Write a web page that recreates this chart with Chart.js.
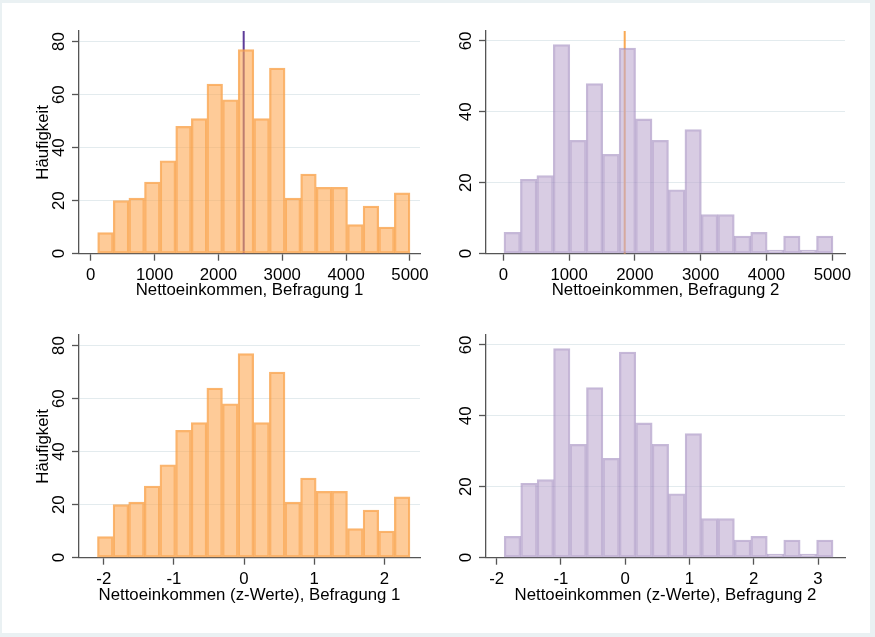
<!DOCTYPE html>
<html><head><meta charset="utf-8">
<script src="https://cdn.jsdelivr.net/npm/chart.js@4.4.0/dist/chart.umd.min.js"></script>
<style>
html,body{margin:0;padding:0;background:#eaf1f3;width:875px;height:637px;overflow:hidden;}
#frame{position:absolute;left:2px;top:3px;width:868px;height:630px;background:#fff;}
canvas{position:absolute;}
</style></head><body>
<div id="frame"></div>
<canvas id="c1" width="450" height="310" style="left:0;top:0"></canvas>
<canvas id="c2" width="440" height="310" style="left:430px;top:0"></canvas>
<canvas id="c3" width="450" height="305" style="left:0;top:310px"></canvas>
<canvas id="c4" width="440" height="305" style="left:430px;top:310px"></canvas>
<script>
// ---- data ----
const binEdges1 = [109, 354, 598, 843, 1087, 1332, 1576, 1821, 2065, 2310, 2555, 2799, 3044, 3288, 3533, 3777, 4022, 4266, 4511, 4755, 5000];
const counts1   = [8, 20, 21, 27, 35, 48, 51, 64, 58, 77, 51, 70, 21, 30, 25, 25, 11, 18, 10, 23];
const binEdges2 = [10, 260, 510, 760, 1010, 1260, 1510, 1760, 2010, 2260, 2510, 2760, 3010, 3260, 3510, 3760, 4010, 4260, 4510, 4760, 5010];
const counts2   = [6, 21, 22, 59, 32, 48, 28, 58, 38, 32, 18, 35, 11, 11, 5, 6, 1, 5, 1, 5];
const binEdgesZ1 = [-2.090, -1.867, -1.644, -1.422, -1.199, -0.976, -0.753, -0.530, -0.308, -0.085, 0.138, 0.361, 0.584, 0.806, 1.029, 1.252, 1.475, 1.698, 1.920, 2.143, 2.366];
const countsZ1   = [8, 20, 21, 27, 35, 48, 51, 64, 58, 77, 51, 70, 21, 30, 25, 25, 11, 18, 10, 23];
const binEdgesZ2 = [-1.882, -1.626, -1.370, -1.115, -0.859, -0.603, -0.347, -0.091, 0.164, 0.420, 0.676, 0.932, 1.188, 1.443, 1.699, 1.955, 2.211, 2.467, 2.722, 2.978, 3.234];
const countsZ2   = [6, 21, 22, 59, 32, 48, 28, 58, 38, 32, 18, 35, 11, 11, 5, 6, 1, 5, 1, 5];
const markerLine1 = 2396;   // vertical line, panel top-left
const markerLine2 = 1845;   // vertical line, panel top-right
const xTicksIncome = [0, 1000, 2000, 3000, 4000, 5000];
const xTicksZ1 = [-2, -1, 0, 1, 2];
const xTicksZ2 = [-2, -1, 0, 1, 2, 3];
const yTicks1 = [0, 20, 40, 60, 80];
const yTicks2 = [0, 20, 40, 60];
const xTitle1 = 'Nettoeinkommen, Befragung 1';
const xTitle2 = 'Nettoeinkommen, Befragung 2';
const xTitleZ1 = 'Nettoeinkommen (z-Werte), Befragung 1';
const xTitleZ2 = 'Nettoeinkommen (z-Werte), Befragung 2';
const yTitle = 'Häufigkeit';

// ---- styling ----
Chart.defaults.font.family = "'Liberation Sans', Arial, sans-serif";
Chart.defaults.font.size = 16.8;
Chart.defaults.color = '#000';

const ORANGE_FILL = 'rgba(253,168,83,0.6)';
const ORANGE_LINE = 'rgba(249,160,70,0.78)';
const PURPLE_FILL = 'rgba(190,170,208,0.6)';
const PURPLE_LINE = 'rgba(160,138,190,0.6)';
const AXIS = '#555';
const GRID = '#e3ebee';

function makeChart(id, o) {
  const centers = o.edges.slice(0, -1).map((e, i) => (e + o.edges[i + 1]) / 2);
  const datasets = [{
    type: 'bar',
    data: centers.map((c, i) => ({x: c, y: o.counts[i]})),
    backgroundColor: o.fill,
    borderColor: o.border,
    borderWidth: 1.6,
    borderSkipped: false,
    barPercentage: 1,
    categoryPercentage: 1,
    grouped: false
  }];
  if (o.marker !== undefined) {
    datasets.push({
      type: 'line',
      data: [{x: o.marker, y: 0}, {x: o.marker, y: o.yMax}],
      borderColor: o.markerColor,
      borderWidth: 2,
      pointRadius: 0,
      fill: false
    });
  }
  return new Chart(document.getElementById(id), {
    type: 'bar',
    data: {datasets},
    options: {
      responsive: false,
      animation: false,
      devicePixelRatio: 1,
      events: [],
      layout: {padding: {top: o.padTop, right: o.padRight, left: 0, bottom: 0}},
      plugins: {legend: {display: false}, tooltip: {enabled: false}},
      scales: {
        x: {
          type: 'linear', min: o.xMin, max: o.xMax, offset: false,
          afterFit: s => { s.height = o.xH; },
          afterBuildTicks: s => { s.ticks = o.xTicks.map(v => ({value: v})); },
          ticks: {padding: 5, minRotation: 0, maxRotation: 0, autoSkip: false, callback: v => String(v)},
          grid: {drawOnChartArea: false, offset: false, tickColor: AXIS, tickLength: 7, tickWidth: 1.3},
          border: {color: AXIS, width: 1.3},
          title: {display: true, text: o.xTitle, padding: {top: 0, bottom: 10}}
        },
        y: {
          type: 'linear', min: 0, max: o.yMax,
          afterFit: s => { s.width = o.yW; },
          afterBuildTicks: s => { s.ticks = o.yTicks.map(v => ({value: v})); },
          ticks: {minRotation: 90, maxRotation: 90, crossAlign: 'center', padding: 3, callback: v => String(v)},
          grid: {color: GRID, lineWidth: 1, tickColor: AXIS, tickLength: 7, tickWidth: 1.3},
          border: {color: AXIS, width: 1.3},
          title: {display: o.showYTitle, text: yTitle, padding: {top: 33, bottom: 0}}
        }
      }
    }
  });
}

makeChart('c1', {edges: binEdges1, counts: counts1, fill: ORANGE_FILL, border: ORANGE_LINE,
  marker: markerLine1, markerColor: '#5e3c99', xMin: -183, xMax: 5157, yMax: 84,
  xTicks: xTicksIncome, yTicks: yTicks1, xTitle: xTitle1, showYTitle: true,
  padTop: 31, padRight: 30, yW: 79, xH: 56.3});
makeChart('c2', {edges: binEdges2, counts: counts2, fill: PURPLE_FILL, border: PURPLE_LINE,
  marker: markerLine2, markerColor: '#f9a953', xMin: -263, xMax: 5193, yMax: 62.8,
  xTicks: xTicksIncome, yTicks: yTicks2, xTitle: xTitle2, showYTitle: false,
  padTop: 31, padRight: 25, yW: 56, xH: 56.3});
makeChart('c3', {edges: binEdgesZ1, counts: countsZ1, fill: ORANGE_FILL, border: ORANGE_LINE,
  xMin: -2.353, xMax: 2.509, yMax: 84,
  xTicks: xTicksZ1, yTicks: yTicks1, xTitle: xTitleZ1, showYTitle: true,
  padTop: 25, padRight: 30, yW: 79, xH: 57.3});
makeChart('c4', {edges: binEdgesZ2, counts: countsZ2, fill: PURPLE_FILL, border: PURPLE_LINE,
  xMin: -2.166, xMax: 3.42, yMax: 62.8,
  xTicks: xTicksZ2, yTicks: yTicks2, xTitle: xTitleZ2, showYTitle: false,
  padTop: 25, padRight: 25, yW: 56, xH: 57.3});
</script>
</body></html>
